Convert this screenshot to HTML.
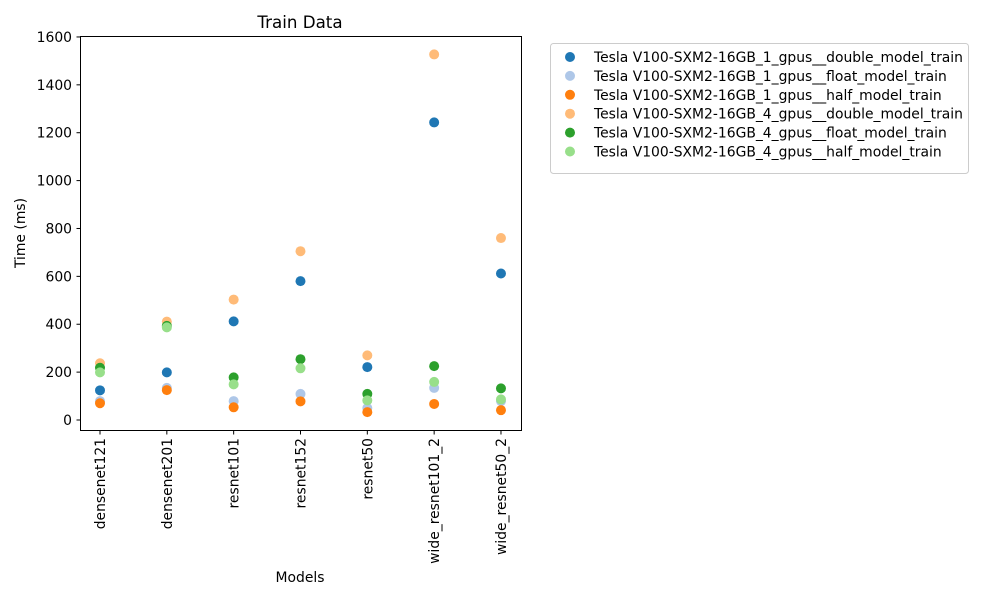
<!DOCTYPE html>
<html><head><meta charset="utf-8"><style>
body{margin:0;background:#fff;font-family:"Liberation Sans","DejaVu Sans",sans-serif;}
svg text{font-family:"DejaVu Sans","Liberation Sans",sans-serif;}
</style></head><body>
<svg id="chart" width="1000" height="600" xmlns="http://www.w3.org/2000/svg">
<rect width="1000" height="600" fill="#fff"/>
<g id="marks"></g>
<rect x="80.5" y="36.5" width="441" height="394" fill="none" stroke="#000" stroke-width="1"/>
<g id="axes"></g>
<text x="300" y="28" font-size="16.7" text-anchor="middle">Train Data</text>
<text x="300" y="582" font-size="13.9" text-anchor="middle">Models</text>
<text transform="translate(25,233) rotate(-90)" font-size="13.9" text-anchor="middle">Time (ms)</text>
<g id="legend"></g>
</svg>
<script>
const categories=["densenet121","densenet201","resnet101","resnet152","resnet50","wide_resnet101_2","wide_resnet50_2"];
const seriesNames=["Tesla V100-SXM2-16GB_1_gpus__double_model_train","Tesla V100-SXM2-16GB_1_gpus__float_model_train","Tesla V100-SXM2-16GB_1_gpus__half_model_train","Tesla V100-SXM2-16GB_4_gpus__double_model_train","Tesla V100-SXM2-16GB_4_gpus__float_model_train","Tesla V100-SXM2-16GB_4_gpus__half_model_train"];
const double1=[124,199,412,580,221,1243,612];
const float1=[79,134,79,109,50,134,79];
const half1=[70,125,53,78,33,67,41];
const double4=[237,411,503,705,270,1527,760];
const float4=[218,393,178,254,109,225,132];
const half4=[199,387,149,216,82,159,86];
const yTicks=[0,200,400,600,800,1000,1200,1400,1600];
const colors=["#1f77b4","#aec7e8","#ff7f0e","#ffbb78","#2ca02c","#98df8a"];
const series=[double1,float1,half1,double4,float4,half4];
const NS="http://www.w3.org/2000/svg";
const xS=i=>100+i*66.83;
const yS=v=>420-v*0.2394;
function mk(tag,attrs,parent){const e=document.createElementNS(NS,tag);for(const k in attrs)e.setAttribute(k,attrs[k]);parent.appendChild(e);return e;}
const marks=document.getElementById('marks'),axes=document.getElementById('axes'),legend=document.getElementById('legend');
series.forEach((s,si)=>{s.forEach((v,i)=>{
 const c=mk('circle',{cx:xS(i),cy:yS(v),r:5,fill:colors[si]},marks);
 
 
});});
yTicks.forEach(t=>{
 const y=yS(t);
 const l=mk('line',{x1:76.5,x2:80.5,y1:y,y2:y,stroke:'#000'},axes);
 
 
 const tx=mk('text',{x:72,y:y+5,'font-size':13.9,'text-anchor':'end'},axes);tx.textContent=t;
 
 
});
categories.forEach((c,i)=>{
 const x=xS(i);
 const l=mk('line',{x1:x,x2:x,y1:430.5,y2:434.5,stroke:'#000'},axes);
 
 
 const tx=mk('text',{transform:`translate(${x+5},438) rotate(-90)`,'font-size':13.9,'text-anchor':'end'},axes);tx.textContent=c;
 
 
});
mk('rect',{x:550.5,y:43.5,width:418,height:130,rx:3,fill:'#fff',stroke:'#ccc'},legend);
seriesNames.forEach((n,i)=>{
 const y=57+i*18.9;
 const c=mk('circle',{cx:570,cy:y,r:5,fill:colors[i]},legend);
 
 
 const t=mk('text',{x:594,y:y+5,'font-size':13.9},legend);t.textContent=n;
 
 
});
</script>
</body></html>
